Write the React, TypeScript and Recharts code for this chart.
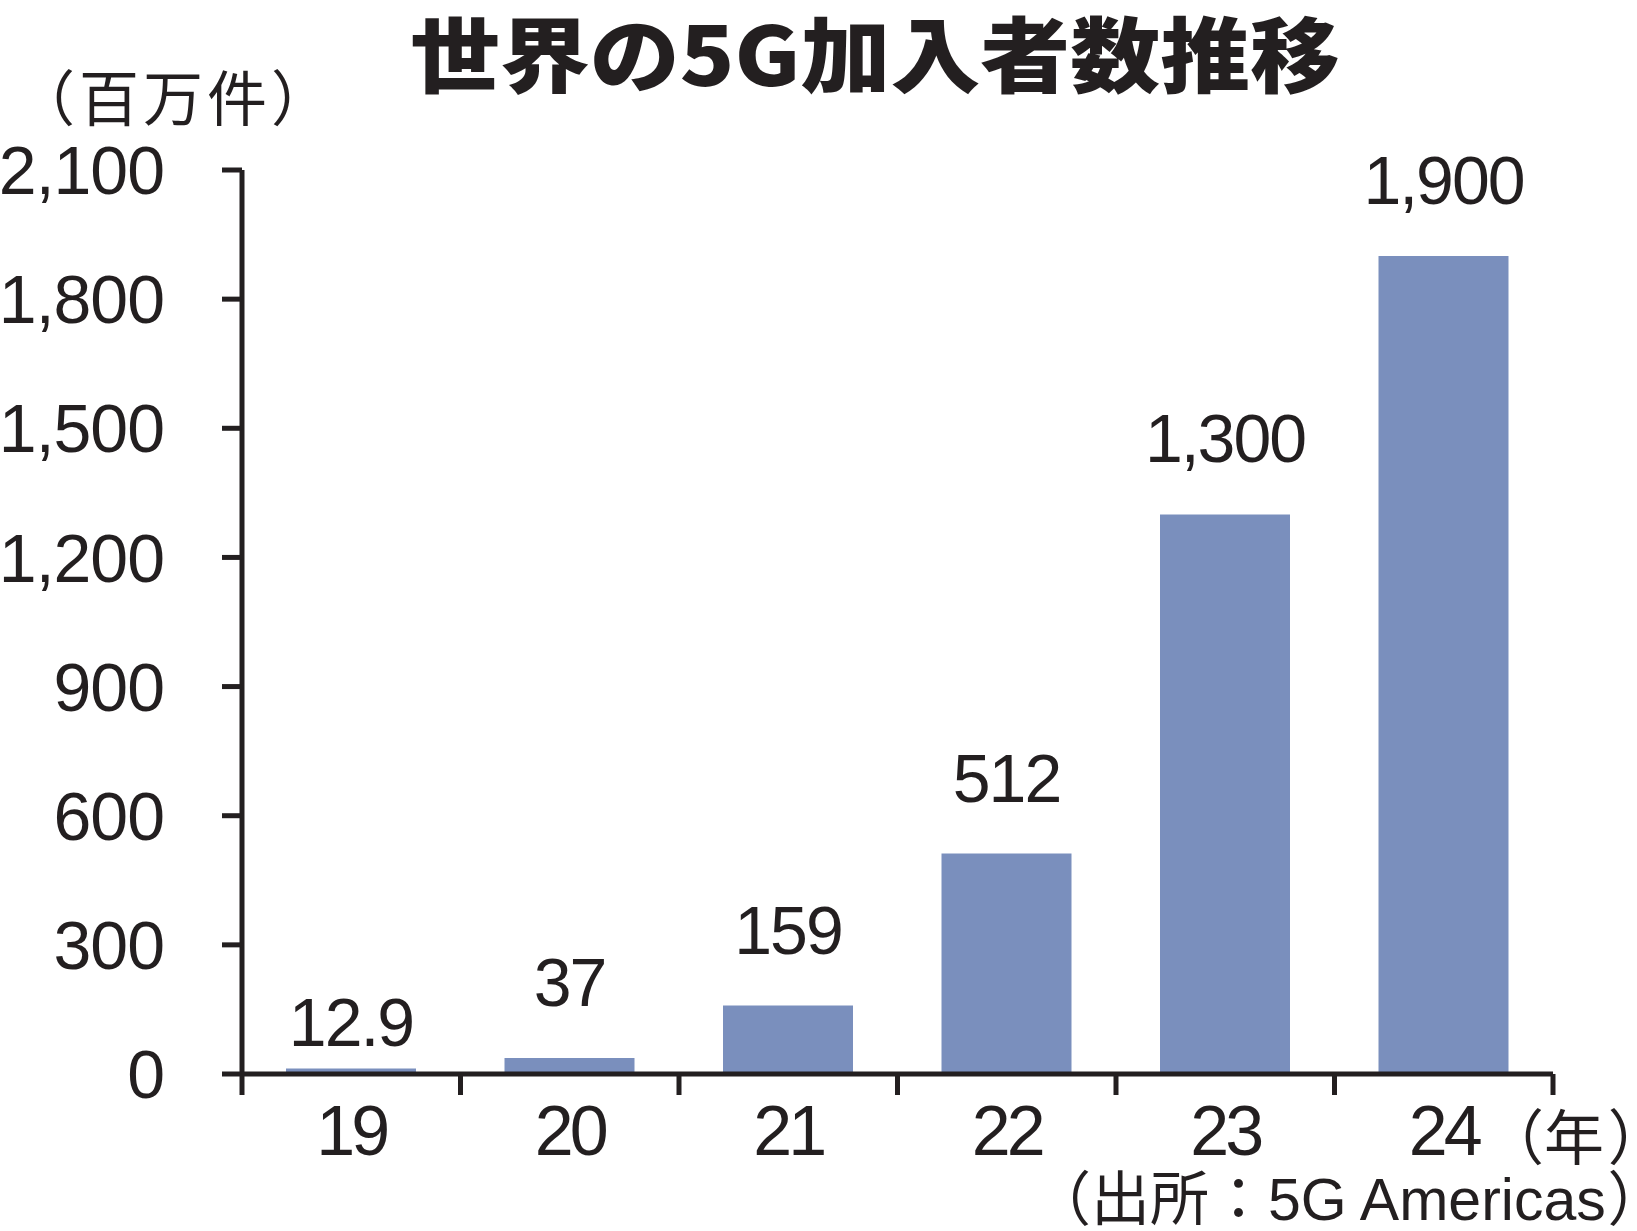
import { BarChart, Bar, XAxis, YAxis, LabelList } from 'recharts';

const years = ['19', '20', '21', '22', '23', '24'];
const subscribers = [12.9, 37, 159, 512, 1300, 1900];
const yTicks = [0, 300, 600, 900, 1200, 1500, 1800, 2100];

const title = '世界の5G加入者数推移';
const unitLabel = '（百万件）';
const yearLabel = '（年';
const sourceLabel = '（出所：5G Americas';
const closeParen = '）';

const INK = '#231f20';
const BAR = '#7a8fbd';
const NUM_FONT = '"Liberation Sans", Arial, sans-serif';
const JP_FONT = '"Liberation Sans", "Noto Sans CJK JP", sans-serif';

const W = 1637;
const H = 1231;
const MARGIN = { top: 170, right: 84, left: 0, bottom: 0 };
const Y_AXIS_W = 242;
const X_AXIS_H = 157;
const TICK_GAP = 31;

const rows = years.map((year, i) => ({ year, value: subscribers[i] }));

function fmt(v: number) {
  return v.toLocaleString('en-US');
}

function ValueLabel(props: any) {
  const { x, y, width, value } = props;
  const lift = value < 20 ? 22 : 52;
  return (
    <text
      x={x + width / 2}
      y={y - lift}
      textAnchor="middle"
      fontSize={68}
      letterSpacing={-2}
      fontFamily={NUM_FONT}
      fill={INK}
    >
      {fmt(value)}
    </text>
  );
}

// year labels + tick marks on the category boundaries
function YearTick(props: any) {
  const { x, y, payload, index, width, visibleTicksCount } = props;
  const plotW = W - Y_AXIS_W - MARGIN.right;
  const band = (width || plotW) / (visibleTicksCount || years.length);
  const axisY = y - TICK_GAP;
  const last = index === (visibleTicksCount || years.length) - 1;
  return (
    <g>
      <line x1={x - band / 2} x2={x - band / 2} y1={axisY} y2={axisY + 21} stroke={INK} strokeWidth={5} />
      {last && (
        <line x1={x + band / 2} x2={x + band / 2} y1={axisY} y2={axisY + 21} stroke={INK} strokeWidth={5} />
      )}
      <text
        x={x}
        y={y}
        dy="0.71em"
        textAnchor="middle"
        fontSize={70}
        letterSpacing={-4}
        fontFamily={NUM_FONT}
        fill={INK}
      >
        {payload.value}
      </text>
    </g>
  );
}

export default function App() {
  const axisStroke = { stroke: INK, strokeWidth: 5 };
  return (
    <div style={{ position: 'absolute', left: 0, top: 0, width: W, height: H, background: '#fff' }}>
      <BarChart width={W} height={H} data={rows} margin={MARGIN}>
        <YAxis
          domain={[0, 2100]}
          ticks={yTicks}
          interval={0}
          width={Y_AXIS_W}
          tickSize={20}
          tickMargin={58}
          axisLine={axisStroke}
          tickLine={axisStroke}
          tickFormatter={fmt}
          tick={{ fontSize: 68, fill: INK, fontFamily: NUM_FONT, letterSpacing: -1 }}
        />
        <XAxis
          dataKey="year"
          height={X_AXIS_H}
          interval={0}
          tickLine={false}
          axisLine={axisStroke}
          tickSize={0}
          tickMargin={TICK_GAP}
          tick={<YearTick />}
        />
        <Bar dataKey="value" fill={BAR} barSize={130} isAnimationActive={false}>
          <LabelList dataKey="value" content={ValueLabel} />
        </Bar>
      </BarChart>
      <svg width={W} height={H} style={{ position: 'absolute', left: 0, top: 0, pointerEvents: 'none' }}>
        <text
          x={410}
          y={86}
          fontSize={82}
          fontWeight={900}
          fontFamily='"Noto Sans CJK JP", sans-serif'
          fill={INK}
          textLength={930}
          lengthAdjust="spacingAndGlyphs"
        >
          {title}
        </text>
        <text x={15} y={121} fontSize={60} letterSpacing={4} fontFamily={JP_FONT} fill={INK}>
          {unitLabel}
        </text>
        <text x={1484} y={1160} fontSize={60} fontFamily={JP_FONT} fill={INK}>
          {yearLabel}
          <tspan dx={6} style={{ fontFeatureSettings: '"palt"' }}>{closeParen}</tspan>
        </text>
        <text x={1032} y={1220} fontSize={59} fontFamily={JP_FONT} fill={INK}>
          {sourceLabel}
          <tspan dx={4} style={{ fontFeatureSettings: '"palt"' }}>{closeParen}</tspan>
        </text>
      </svg>
    </div>
  );
}
